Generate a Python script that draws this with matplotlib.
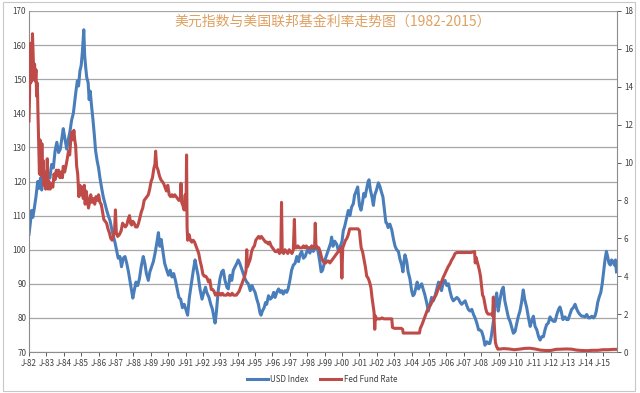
import matplotlib.pyplot as plt
from matplotlib.patches import Rectangle

plt.rcParams['font.family'] = ['Noto Sans CJK SC', 'DejaVu Sans']

# USD index (decimal year, value)
usd_t = [1982.00, 1982.08, 1982.15, 1982.22, 1982.30, 1982.40, 1982.50, 1982.58, 1982.66, 1982.73,
         1982.82, 1982.90, 1983.00, 1983.10, 1983.20, 1983.30, 1983.40, 1983.50, 1983.60, 1983.70,
         1983.80, 1983.90, 1983.97, 1984.05, 1984.17, 1984.25, 1984.35, 1984.45, 1984.55, 1984.62,
         1984.70, 1984.78, 1984.85, 1984.93, 1985.00, 1985.07, 1985.15, 1985.20, 1985.26, 1985.32,
         1985.40, 1985.46, 1985.52, 1985.60, 1985.68, 1985.75, 1985.83, 1985.92, 1986.00, 1986.08,
         1986.18, 1986.27, 1986.37, 1986.47, 1986.56, 1986.66, 1986.76, 1986.85, 1986.95, 1987.05,
         1987.13, 1987.23, 1987.32, 1987.42, 1987.52, 1987.62, 1987.72, 1987.80, 1987.88, 1987.97,
         1988.05, 1988.15, 1988.25, 1988.35, 1988.45, 1988.57, 1988.66, 1988.75, 1988.86, 1988.95,
         1989.05, 1989.15, 1989.25, 1989.35, 1989.44, 1989.52, 1989.60, 1989.70, 1989.80, 1989.92,
         1990.02, 1990.12, 1990.22, 1990.32, 1990.42, 1990.52, 1990.62, 1990.72, 1990.82, 1990.92,
         1991.02, 1991.12, 1991.22, 1991.35, 1991.45, 1991.55, 1991.62, 1991.72, 1991.83, 1991.95,
         1992.05, 1992.15, 1992.22, 1992.35, 1992.45, 1992.55, 1992.62, 1992.70, 1992.78, 1992.88,
         1992.98, 1993.08, 1993.17, 1993.27, 1993.38, 1993.46, 1993.56, 1993.66, 1993.75, 1993.85,
         1993.95, 1994.03, 1994.12, 1994.22, 1994.32, 1994.42, 1994.52, 1994.61, 1994.72, 1994.82,
         1994.90, 1995.00, 1995.10, 1995.19, 1995.28, 1995.34, 1995.42, 1995.52, 1995.60, 1995.67,
         1995.77, 1995.87, 1995.97, 1996.07, 1996.15, 1996.25, 1996.35, 1996.45, 1996.53, 1996.62,
         1996.72, 1996.82, 1996.90, 1997.00, 1997.10, 1997.20, 1997.30, 1997.40, 1997.50, 1997.58,
         1997.68, 1997.78, 1997.88, 1997.98, 1998.06, 1998.15, 1998.25, 1998.35, 1998.45, 1998.55,
         1998.62, 1998.72, 1998.80, 1998.88, 1998.98, 1999.05, 1999.15, 1999.25, 1999.35, 1999.40,
         1999.48, 1999.58, 1999.70, 1999.80, 1999.90, 2000.00, 2000.07, 2000.16, 2000.25, 2000.36,
         2000.45, 2000.55, 2000.65, 2000.72, 2000.80, 2000.90, 2001.00, 2001.09, 2001.18, 2001.25,
         2001.32, 2001.42, 2001.50, 2001.55, 2001.63, 2001.72, 2001.80, 2001.88, 2001.98, 2002.09,
         2002.18, 2002.26, 2002.35, 2002.45, 2002.52, 2002.57, 2002.65, 2002.75, 2002.86, 2002.96,
         2003.05, 2003.14, 2003.24, 2003.34, 2003.43, 2003.50, 2003.56, 2003.62, 2003.72, 2003.80,
         2003.90, 2004.00, 2004.08, 2004.16, 2004.25, 2004.32, 2004.40, 2004.50, 2004.58, 2004.66,
         2004.75, 2004.87, 2004.96, 2005.06, 2005.15, 2005.25, 2005.35, 2005.45, 2005.55, 2005.64,
         2005.72, 2005.82, 2005.92, 2006.02, 2006.12, 2006.20, 2006.30, 2006.40, 2006.50, 2006.60,
         2006.70, 2006.80, 2006.88, 2006.98, 2007.08, 2007.18, 2007.26, 2007.36, 2007.46, 2007.56,
         2007.65, 2007.75, 2007.85, 2007.93, 2008.03, 2008.12, 2008.22, 2008.32, 2008.42, 2008.50,
         2008.58, 2008.66, 2008.73, 2008.80, 2008.89, 2008.98, 2009.08, 2009.18, 2009.27, 2009.36,
         2009.47, 2009.57, 2009.66, 2009.75, 2009.85, 2009.95, 2010.05, 2010.14, 2010.23, 2010.32,
         2010.42, 2010.50, 2010.62, 2010.72, 2010.82, 2010.90, 2011.00, 2011.10, 2011.20, 2011.30,
         2011.39, 2011.48, 2011.58, 2011.67, 2011.76, 2011.86, 2011.96, 2012.05, 2012.15, 2012.25,
         2012.35, 2012.45, 2012.53, 2012.60, 2012.70, 2012.82, 2012.92, 2013.00, 2013.10, 2013.20,
         2013.30, 2013.40, 2013.50, 2013.60, 2013.68, 2013.78, 2013.88, 2013.97, 2014.07, 2014.17,
         2014.26, 2014.36, 2014.46, 2014.54, 2014.62, 2014.70, 2014.78, 2014.88, 2014.96, 2015.05,
         2015.12, 2015.20, 2015.27, 2015.35, 2015.43, 2015.50, 2015.58, 2015.66, 2015.72, 2015.78]
usd_v = [104.5, 108, 111.5, 109.5, 112, 115.5, 120, 118, 121, 117.5,
         122, 120.5, 118.5, 122.5, 121, 125, 124, 129, 131.5, 128.5,
         129.5, 133, 135.5, 133, 129.5, 132, 134.5, 138, 140, 143,
         146.5, 149.5, 148, 152.5, 154, 158, 164.5, 157, 153.5, 150.5,
         149, 144, 146.5, 142, 138, 134, 129, 126, 124, 121,
         118, 115.5, 113.5, 111.5, 110, 108.5, 106, 104, 102, 99.5,
         97.5, 98, 95, 97.5, 98, 96, 93.5, 91, 88.5, 85.8,
         88, 90.5, 89.5, 91.5, 95, 98, 96, 93, 91, 93.5,
         95, 96.5, 99, 102, 105, 101, 103, 99.5, 96, 94,
         92.5, 94, 92, 93, 91, 88.5, 86, 85.5, 83, 84,
         82.5, 80.8, 86, 90.5, 94, 97, 95, 92.5, 88.5, 85.5,
         87.5, 89, 87.5, 86, 84, 82.5, 80.5, 78.5, 82, 88,
         91.5, 93.5, 94, 91, 89, 88.5, 92.5, 91, 94, 95,
         96, 97, 96, 94.5, 93, 91.5, 90.5, 90, 88, 89.5,
         88.5, 87.5, 85.5, 84, 81.5, 80.8, 82, 83, 84.5, 84,
         86.5, 85.5, 86, 87.5, 86, 87.5, 88.5, 87.5, 88, 87,
         88, 87.5, 88.5, 91, 94, 95.5, 96, 98, 96.5, 98.5,
         99.5, 97.5, 98, 99.5, 100.5, 99, 101, 99.5, 100.5, 101,
         99.5, 96.5, 93.5, 94, 96, 97.5, 99, 100.5, 102, 103.7,
         101, 102.5, 101.5, 99.5, 101, 102.5, 105.5, 107, 109, 111.5,
         110, 112.5, 113.5, 116, 117, 118.4, 113, 111.6, 114, 116.5,
         115.5, 118, 120, 120.5, 117.5, 115.5, 113, 116, 117.5, 119.6,
         118.5, 117, 115.5, 111, 108, 107.8, 106.5, 107.5, 105.8, 103,
         101, 100, 99.5, 97, 95.5, 93.5, 96.5, 98.5, 96.5, 93.5,
         91.5, 88, 86.5, 87, 89, 90.5, 88.5, 89.5, 90, 88.5,
         87, 84.4, 82, 84, 86, 85, 86.5, 88.5, 90.5, 90,
         88, 90.5, 91, 89.5, 90, 88, 86, 85, 85.5, 86,
         85.5, 84.5, 84, 84.5, 85, 83.5, 82.5, 82, 82.5, 81,
         80, 78.5, 76.5, 76.5, 76, 74.5, 72, 73, 72.5, 72.5,
         74.5, 77.5, 80, 84.5, 87.3, 82, 85.3, 88, 89, 85,
         82.3, 80, 79, 77.3, 75.5, 76, 78.5, 80.5, 82, 84.5,
         88.2, 85.5, 83, 80, 77.5, 79, 80.5, 77.5, 76.5, 74.5,
         73.5, 74.5, 74.5, 76.5, 78, 78.5, 80.3, 79.5, 79, 79,
         81, 82.5, 83.2, 82, 79.5, 80.3, 79.5, 79.5, 81, 82.5,
         83, 84, 82.5, 81.5, 81, 80.5, 80.5, 80.3, 81, 80,
         80, 80.5, 80, 80.5, 82, 84.5, 86, 87.5, 90, 94,
         97, 99.5, 98, 96, 95.5, 97, 96.5, 95.5, 97, 93.5]

# Fed fund rate (%), right axis
fed_t = [1982.00, 1982.03, 1982.06, 1982.09, 1982.12, 1982.16, 1982.20, 1982.24, 1982.28, 1982.32,
         1982.36, 1982.40, 1982.44, 1982.48, 1982.52, 1982.56, 1982.60, 1982.63, 1982.66, 1982.70,
         1982.74, 1982.78, 1982.82, 1982.86, 1982.90, 1982.95, 1983.00, 1983.05, 1983.10, 1983.15,
         1983.22, 1983.30, 1983.37, 1983.44, 1983.50, 1983.57, 1983.64, 1983.70, 1983.78, 1983.85,
         1983.92, 1983.97, 1984.05, 1984.12, 1984.20, 1984.27, 1984.34, 1984.40, 1984.46, 1984.52,
         1984.58, 1984.63, 1984.68, 1984.74, 1984.80, 1984.87, 1984.93, 1985.00, 1985.06, 1985.12,
         1985.18, 1985.23, 1985.28, 1985.35, 1985.42, 1985.48, 1985.55, 1985.62, 1985.70, 1985.78,
         1985.85, 1985.92, 1986.00, 1986.08, 1986.15, 1986.23, 1986.30, 1986.38, 1986.46, 1986.54,
         1986.62, 1986.70, 1986.78, 1986.85, 1986.92, 1986.97, 1987.02, 1987.10, 1987.20, 1987.30,
         1987.38, 1987.46, 1987.54, 1987.62, 1987.70, 1987.78, 1987.84, 1987.90, 1987.97, 1988.05,
         1988.13, 1988.22, 1988.30, 1988.38, 1988.46, 1988.54, 1988.62, 1988.70, 1988.78, 1988.86,
         1988.94, 1989.02, 1989.10, 1989.18, 1989.24, 1989.28, 1989.34, 1989.42, 1989.50, 1989.58,
         1989.66, 1989.74, 1989.82, 1989.90, 1989.98, 1990.06, 1990.14, 1990.22, 1990.30, 1990.38,
         1990.46, 1990.54, 1990.62, 1990.70, 1990.74, 1990.78, 1990.86, 1990.92, 1990.98, 1991.03,
         1991.06, 1991.09, 1991.12, 1991.20, 1991.28, 1991.36, 1991.44, 1991.52, 1991.60, 1991.68,
         1991.76, 1991.84, 1991.92, 1992.00, 1992.08, 1992.16, 1992.24, 1992.32, 1992.40, 1992.48,
         1992.56, 1992.64, 1992.72, 1992.80, 1992.88, 1992.96, 1993.04, 1993.12, 1993.20, 1993.28,
         1993.36, 1993.44, 1993.52, 1993.60, 1993.68, 1993.76, 1993.84, 1993.92, 1994.00, 1994.08,
         1994.16, 1994.24, 1994.32, 1994.40, 1994.48, 1994.52, 1994.56, 1994.64, 1994.72, 1994.80,
         1994.88, 1994.96, 1995.04, 1995.12, 1995.20, 1995.28, 1995.36, 1995.44, 1995.52, 1995.60,
         1995.68, 1995.76, 1995.84, 1995.92, 1996.00, 1996.08, 1996.16, 1996.24, 1996.32, 1996.40,
         1996.48, 1996.52, 1996.56, 1996.64, 1996.72, 1996.80, 1996.88, 1996.96, 1997.04, 1997.12,
         1997.20, 1997.26, 1997.30, 1997.38, 1997.46, 1997.54, 1997.62, 1997.70, 1997.78, 1997.86,
         1997.94, 1998.02, 1998.10, 1998.18, 1998.26, 1998.34, 1998.42, 1998.46, 1998.50, 1998.58,
         1998.66, 1998.74, 1998.82, 1998.90, 1998.98, 1999.06, 1999.14, 1999.22, 1999.30, 1999.38,
         1999.46, 1999.54, 1999.62, 1999.70, 1999.78, 1999.86, 1999.94, 1999.99, 2000.04, 2000.12,
         2000.20, 2000.28, 2000.36, 2000.44, 2000.52, 2000.60, 2000.68, 2000.76, 2000.84, 2000.92,
         2001.00, 2001.04, 2001.10, 2001.18, 2001.26, 2001.34, 2001.42, 2001.50, 2001.58, 2001.66,
         2001.72, 2001.78, 2001.84, 2001.88, 2001.92, 2001.98, 2002.10, 2002.20, 2002.30, 2002.40,
         2002.50, 2002.60, 2002.70, 2002.80, 2002.86, 2002.90, 2003.00, 2003.10, 2003.20, 2003.30,
         2003.40, 2003.48, 2003.52, 2003.60, 2003.75, 2003.90, 2004.05, 2004.20, 2004.35, 2004.45,
         2004.50, 2004.60, 2004.70, 2004.80, 2004.90, 2005.00, 2005.10, 2005.20, 2005.30, 2005.40,
         2005.50, 2005.60, 2005.70, 2005.80, 2005.90, 2006.00, 2006.10, 2006.20, 2006.30, 2006.40,
         2006.50, 2006.60, 2006.80, 2007.00, 2007.20, 2007.40, 2007.62, 2007.66, 2007.70, 2007.76,
         2007.82, 2007.90, 2007.96, 2008.02, 2008.08, 2008.14, 2008.20, 2008.26, 2008.32, 2008.40,
         2008.50, 2008.60, 2008.66, 2008.70, 2008.74, 2008.78, 2008.82, 2008.88, 2008.96, 2009.00,
         2009.30, 2009.60, 2009.90, 2010.20, 2010.50, 2010.80, 2011.10, 2011.40, 2011.70, 2012.00,
         2012.30, 2012.60, 2012.90, 2013.20, 2013.50, 2013.80, 2014.10, 2014.40, 2014.70, 2015.00,
         2015.30, 2015.60, 2015.78]
fed_v = [12.2, 13.5, 16.3, 14.2, 15.5, 14.3, 16.8, 15.6, 14.5, 15.2,
         14.3, 14.9, 13.5, 14.2, 12.4, 11.0, 9.4, 11.2, 10.1, 9.3,
         11.0, 9.6, 10.1, 8.8, 9.5, 8.6, 8.7, 10.2, 8.6, 9.0,
         8.6, 8.9, 8.7, 9.4, 9.1, 9.6, 9.3, 9.6, 9.2, 9.5,
         9.2, 9.8, 9.5, 9.8, 10.2, 10.6, 10.4, 11.2, 11.6, 11.2,
         11.7, 11.2, 10.9, 9.8, 9.4, 8.2, 8.8, 8.3, 8.7, 8.1,
         8.8, 7.8, 8.5, 8.1, 7.6, 7.9, 8.3, 7.9, 8.1, 7.8,
         8.2, 8.0, 8.3, 7.9, 7.8, 7.4, 7.0, 6.9, 6.8, 6.5,
         6.3, 6.0, 5.9, 6.1, 6.4, 7.5, 6.3, 6.1, 6.2, 6.4,
         6.8, 6.7, 6.6, 6.7, 7.0, 7.2, 6.8, 6.7, 6.9, 6.8,
         6.6, 6.6, 6.8, 7.1, 7.4, 7.6, 8.0, 8.1, 8.2, 8.3,
         8.6, 9.0, 9.2, 9.7, 9.9, 10.6, 9.8, 9.6, 9.3, 9.1,
         9.0, 8.9, 8.7, 8.5, 8.8, 8.3, 8.2, 8.3, 8.2, 8.3,
         8.2, 8.1, 8.0, 8.1, 8.9, 7.9, 7.7, 7.5, 8.3, 7.5,
         10.4, 6.6, 5.9, 6.2, 5.9, 5.8, 5.9, 5.8, 5.6, 5.4,
         5.2, 4.8, 4.5, 4.1, 4.0, 4.0, 3.9, 3.7, 3.8, 3.3,
         3.3, 3.2, 3.0, 3.1, 3.0, 3.1, 3.0, 3.1, 3.0, 3.0,
         3.0, 3.1, 3.0, 3.0, 3.1, 3.0, 3.0, 3.0, 3.1, 3.2,
         3.4, 3.6, 3.8, 4.0, 4.3, 5.4, 4.5, 4.7, 4.9, 5.3,
         5.5, 5.6, 5.9, 6.0, 6.1, 6.0, 6.1, 6.0, 5.9, 5.8,
         5.8, 5.7, 5.8, 5.6, 5.5, 5.4, 5.3, 5.3, 5.4, 5.2,
         5.3, 7.9, 5.3, 5.2, 5.4, 5.3, 5.2, 5.4, 5.3, 5.2,
         5.4, 7.0, 5.5, 5.5, 5.6, 5.5, 5.5, 5.5, 5.6, 5.5,
         5.6, 5.5, 5.5, 5.5, 5.6, 5.5, 5.5, 6.8, 5.6, 5.5,
         5.5, 5.3, 5.0, 4.8, 4.7, 4.7, 4.8, 4.8, 4.7, 4.8,
         4.9, 5.0, 5.1, 5.2, 5.3, 5.4, 5.5, 3.9, 5.5, 5.7,
         5.9, 6.0, 6.2, 6.5, 6.5, 6.5, 6.5, 6.5, 6.5, 6.5,
         6.4, 6.0, 5.5, 5.3, 4.9, 4.5, 4.0, 3.9, 3.7, 3.4,
         2.9, 2.5, 2.1, 1.2, 1.9, 1.75, 1.75, 1.75, 1.8, 1.75,
         1.75, 1.75, 1.75, 1.75, 1.75, 1.3, 1.25, 1.25, 1.25, 1.25,
         1.25, 1.2, 1.0, 1.0, 1.0, 1.0, 1.0, 1.0, 1.0, 1.0,
         1.25, 1.45, 1.7, 1.95, 2.2, 2.35, 2.5, 2.7, 2.85, 3.0,
         3.25, 3.45, 3.65, 3.9, 4.1, 4.3, 4.5, 4.65, 4.85, 5.0,
         5.2, 5.25, 5.25, 5.25, 5.25, 5.25, 5.3, 4.7, 5.0, 4.8,
         4.6, 4.3, 4.0, 3.5, 3.0, 2.9, 2.6, 2.3, 2.1, 2.0,
         2.0, 2.0, 1.9, 2.9, 1.7, 1.0, 0.5, 0.3, 0.15, 0.15,
         0.18, 0.16, 0.12, 0.15, 0.19, 0.2, 0.16, 0.1, 0.08, 0.08,
         0.14, 0.15, 0.16, 0.15, 0.1, 0.08, 0.07, 0.09, 0.09, 0.12,
         0.12, 0.14, 0.14]

years = list(range(1982, 2016))
year_labels = ['J-%02d' % (y % 100) for y in years]

blue = '#4A7EBB'
red = '#BE4B48'
txt = '#404040'

fig = plt.figure(figsize=(6.4, 3.93), dpi=100)
# light chart-area border like the spreadsheet export
fig.patches.append(Rectangle((3 / 640, 2 / 393), 632 / 640, 389 / 393, transform=fig.transFigure,
                             fill=False, edgecolor='#c8c8c8', linewidth=0.8))

ax = fig.add_axes([29 / 640, 1 - 352 / 393, 588 / 640, 341 / 393])
ax.plot(usd_t, usd_v, color=blue, linewidth=2.2, label='USD Index')
ax.set_xlim(1982.0, 2015.81)
ax.set_ylim(70, 170)
ax.set_yticks(range(70, 171, 10))
ax.set_xticks(years)
ax.set_xticklabels(year_labels)
ax.grid(axis='y', color='#a6a6a6', linewidth=0.9)
ax.set_axisbelow(True)
ax.tick_params(axis='both', labelsize=5.8, colors=txt, length=3, width=0.6, pad=2)
ax.tick_params(axis='y', length=0)
for s in ['top', 'right']:
    ax.spines[s].set_visible(False)
ax.spines['left'].set_color('#8c8c8c')
ax.spines['bottom'].set_color('#8c8c8c')

ax2 = ax.twinx()
ax2.plot(fed_t, fed_v, color=red, linewidth=2.2, label='Fed Fund Rate')
ax2.set_ylim(0, 18)
ax2.set_yticks(range(0, 19, 2))
ax2.tick_params(axis='y', labelsize=5.8, colors=txt, length=3, width=0.6, pad=2)
for s in ['top', 'left', 'bottom']:
    ax2.spines[s].set_visible(False)
ax2.spines['right'].set_color('#8c8c8c')

fig.text(333 / 640, 1 - 22 / 393, '美元指数与美国联邦基金利率走势图（1982-2015）',
         ha='center', va='center', fontsize=10, color='#E0A060')

h1, l1 = ax.get_legend_handles_labels()
h2, l2 = ax2.get_legend_handles_labels()
fig.legend(h1 + h2, l1 + l2, loc='center', bbox_to_anchor=(322 / 640, 1 - 379 / 393), ncol=2,
           frameon=False, fontsize=5.8, handlelength=2.6, columnspacing=1.5,
           labelcolor=txt, handletextpad=0.3)

fig.savefig('out.png', dpi=100)
